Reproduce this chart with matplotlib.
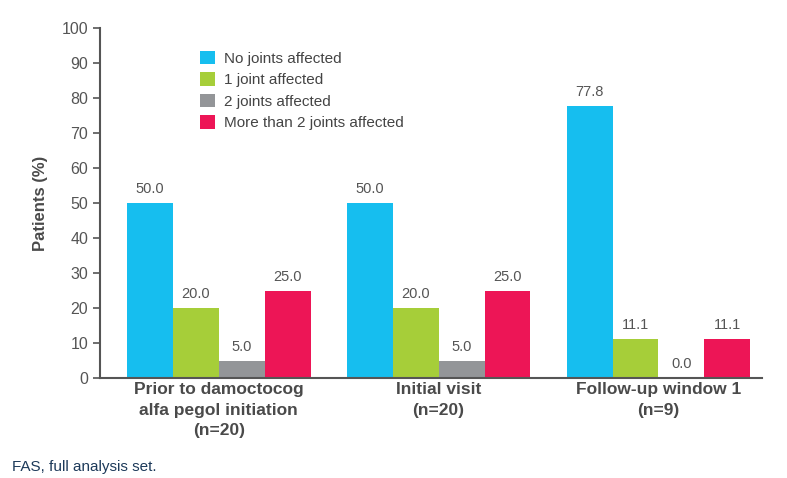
import numpy as np
import matplotlib
matplotlib.use('Agg')
import matplotlib.pyplot as plt

plt.rcParams['font.family'] = ['Liberation Sans', 'DejaVu Sans']

# Data
groups = ['Prior to damoctocog\nalfa pegol initiation\n(n=20)', 'Initial visit\n(n=20)', 'Follow-up window 1\n(n=9)']
series = ['No joints affected', '1 joint affected', '2 joints affected', 'More than 2 joints affected']
values = [
    [50.0, 50.0, 77.8],
    [20.0, 20.0, 11.1],
    [5.0, 5.0, 0.0],
    [25.0, 25.0, 11.1],
]
colors = ['#16BEEF', '#A6CE39', '#939598', '#ED1556']

fig = plt.figure(figsize=(7.87, 4.78), dpi=100)
ax = fig.add_axes([0.127, 0.209, 0.841, 0.732])

x = np.arange(len(groups))
w = 0.209
for i, (name, vals) in enumerate(zip(series, values)):
    pos = x + (i - 1.5) * w
    ax.bar(pos, vals, width=w, color=colors[i], label=name)
    for p, v in zip(pos, vals):
        ax.text(p, v + 2.0, f'{v:.1f}', ha='center', va='bottom', fontsize=10.5, color='#555555')

ax.set_xlim(-0.54, 2.47)
ax.set_ylim(0, 100)
ax.set_yticks(range(0, 101, 10))
ax.set_xticks(x)
ax.set_xticklabels(groups, fontsize=12.5, fontweight='bold', color='#4a4a4a', linespacing=1.45)
ax.tick_params(axis='x', length=0, pad=3)
ax.tick_params(axis='y', length=5, width=1.2, colors='#555555', labelsize=11.5, direction='out')
for s in ['top', 'right']:
    ax.spines[s].set_visible(False)
for s in ['left', 'bottom']:
    ax.spines[s].set_color('#555555')
    ax.spines[s].set_linewidth(1.5)
ax.set_ylabel('Patients (%)', fontsize=12, fontweight='bold', color='#4a4a4a', labelpad=10)

ax.legend(loc='upper left', bbox_to_anchor=(0.13, 0.975), frameon=False, fontsize=11,
          handlelength=1.0, handleheight=1.0, handletextpad=0.6, labelspacing=0.42,
          labelcolor='#444444')

fig.text(0.015, 0.015, 'FAS, full analysis set.', fontsize=11, color='#1d3a5a')

fig.savefig('out.png', dpi=100)
